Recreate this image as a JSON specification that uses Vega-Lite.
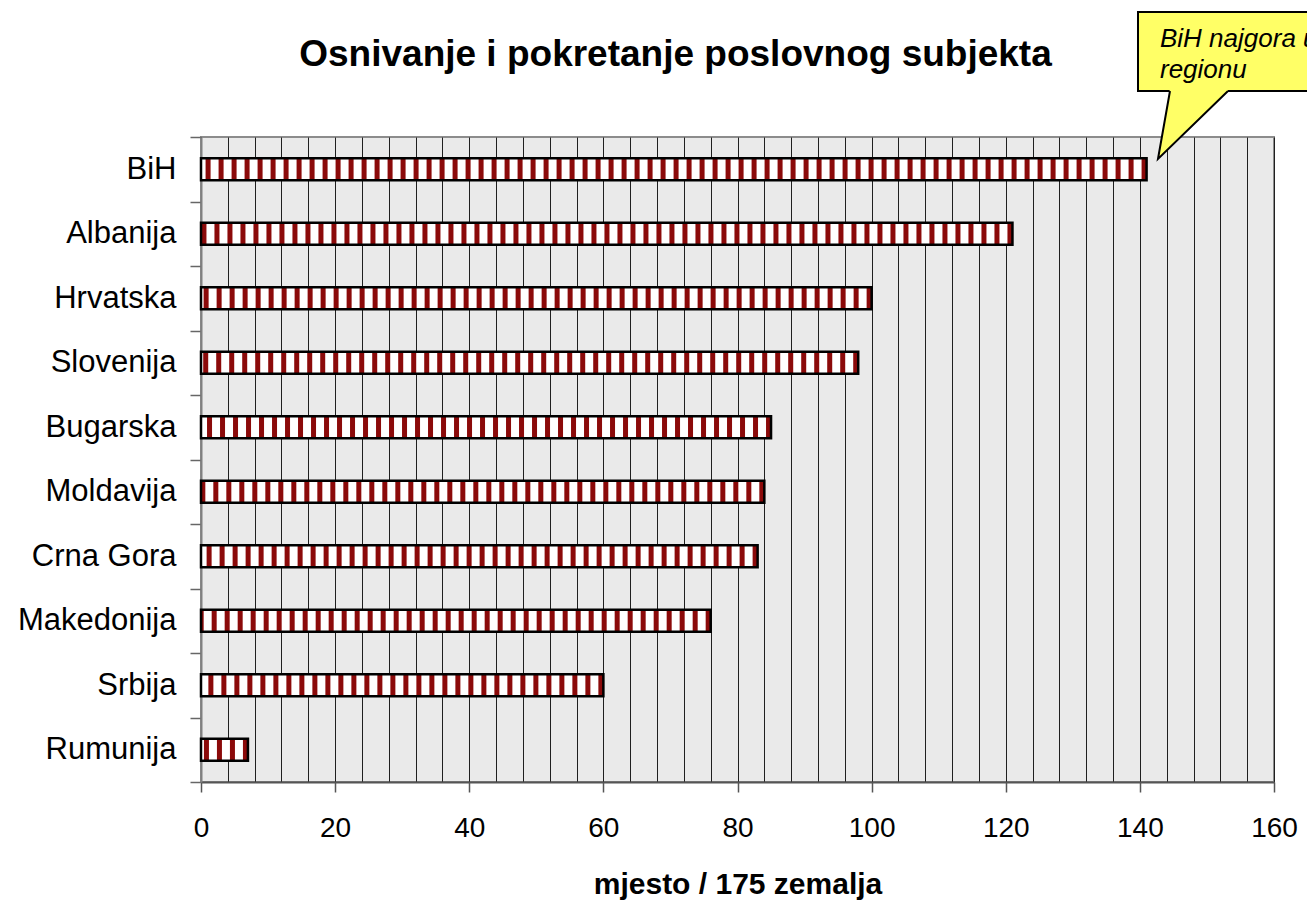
{
  "$schema": "https://vega.github.io/schema/vega-lite/v6.json",
  "width": 1073,
  "height": 645,
  "autosize": {"type": "none"},
  "padding": {"left": 201, "top": 137, "right": 33, "bottom": 121},
  "background": "white",
  "datasets": {
    "rank": [
      {"country": "BiH", "value": 141},
      {"country": "Albanija", "value": 121},
      {"country": "Hrvatska", "value": 100},
      {"country": "Slovenija", "value": 98},
      {"country": "Bugarska", "value": 85},
      {"country": "Moldavija", "value": 84},
      {"country": "Crna Gora", "value": 83},
      {"country": "Makedonija", "value": 76},
      {"country": "Srbija", "value": 60},
      {"country": "Rumunija", "value": 7}
    ],
    "box": [{"value": 139.72, "value2": 170, "lo": 107.13, "hi": 119.38}],
    "tailfill": [
      {"value": 142.7, "lo": 96.59, "hi": 96.59},
      {"value": 144.49, "lo": 98.4, "hi": 107.6},
      {"value": 153.14, "lo": 107.13, "hi": 107.6}
    ],
    "tailline": [
      {"o": 1, "value": 144.49, "lo": 107.13},
      {"o": 2, "value": 142.7, "lo": 96.59},
      {"o": 3, "value": 153.14, "lo": 107.13}
    ],
    "note": [
      {"line": 1, "text": "BiH najgora u", "value": 143.0, "lo": 114.0},
      {"line": 2, "text": "regionu", "value": 143.0, "lo": 109.15}
    ]
  },
  "title": {
    "text": "Osnivanje i pokretanje poslovnog subjekta",
    "font": "Liberation Sans",
    "fontSize": 37,
    "fontWeight": "bold",
    "color": "black",
    "anchor": "middle",
    "dx": -62,
    "baseline": "alphabetic",
    "offset": -92
  },
  "encoding": {
    "x": {
      "field": "value",
      "type": "quantitative",
      "scale": {"domain": [0, 160], "nice": false, "zero": true},
      "axis": {
        "values": [0, 4, 8, 12, 16, 20, 24, 28, 32, 36, 40, 44, 48, 52, 56, 60, 64, 68, 72, 76, 80, 84, 88, 92, 96, 100, 104, 108, 112, 116, 120, 124, 128, 132, 136, 140, 144, 148, 152, 156, 160],
        "labelExpr": "datum.value % 20 === 0 ? datum.label : ''",
        "tickOpacity": {"condition": {"test": "datum.value % 20 === 0", "value": 1}, "value": 0},
        "tickSize": 10,
        "tickColor": "#555555",
        "tickWidth": 1.5,
        "grid": true,
        "gridColor": "#1f1f1f",
        "gridWidth": 1,
        "domain": true,
        "domainColor": "#555555",
        "domainWidth": 2,
        "labelFontSize": 28,
        "labelPadding": 22,
        "labelColor": "black",
        "labelFont": "Liberation Sans",
        "labelFlush": false,
        "labelOverlap": false,
        "title": "mjesto / 175 zemalja",
        "titleFont": "Liberation Sans",
        "titleFontSize": 30,
        "titleFontWeight": "bold",
        "titleColor": "black",
        "titlePadding": 27
      }
    }
  },
  "layer": [
    {
      "data": {"name": "rank"},
      "encoding": {
        "y": {
          "field": "country",
          "type": "nominal",
          "sort": null,
          "scale": {"paddingInner": 0, "paddingOuter": 0},
          "axis": {
            "title": null,
            "grid": false,
            "tickBand": "extent",
            "ticks": true,
            "tickSize": 11,
            "tickColor": "#666666",
            "tickWidth": 1.5,
            "domain": true,
            "domainColor": "#808080",
            "domainWidth": 2,
            "labelFontSize": 31,
            "labelPadding": 14,
            "labelColor": "black",
            "labelFont": "Liberation Sans"
          }
        }
      },
      "layer": [
        {"mark": {"type": "bar", "fill": "white", "size": 22}},
        {
          "mark": {"type": "rule", "color": "#8B0A0A", "strokeWidth": 21, "strokeDash": [5, 8], "strokeCap": "butt"},
          "encoding": {"x2": {"datum": 0}}
        },
        {"mark": {"type": "bar", "fillOpacity": 0, "stroke": "black", "strokeWidth": 2.5, "size": 22}}
      ]
    },
    {
      "layer": [
        {
          "data": {"name": "box"},
          "mark": {"type": "rect", "fill": "#FFFF66", "stroke": "black", "strokeWidth": 2},
          "encoding": {
            "x2": {"field": "value2"},
            "y": {"field": "lo", "type": "quantitative", "scale": {"domain": [0, 100], "nice": false, "zero": false}, "axis": null},
            "y2": {"field": "hi"}
          }
        },
        {
          "data": {"name": "tailfill"},
          "mark": {"type": "area", "fill": "#FFFF66", "strokeWidth": 0, "orient": "vertical"},
          "encoding": {
            "y": {"field": "lo", "type": "quantitative", "scale": {"domain": [0, 100], "nice": false, "zero": false}, "axis": null},
            "y2": {"field": "hi"}
          }
        },
        {
          "data": {"name": "tailline"},
          "mark": {"type": "line", "color": "black", "strokeWidth": 2},
          "encoding": {
            "y": {"field": "lo", "type": "quantitative", "scale": {"domain": [0, 100], "nice": false, "zero": false}, "axis": null},
            "order": {"field": "o", "type": "quantitative"}
          }
        },
        {
          "data": {"name": "note"},
          "mark": {"type": "text", "align": "left", "baseline": "alphabetic", "font": "Liberation Sans", "fontSize": 26, "fontStyle": "italic", "color": "black"},
          "encoding": {
            "y": {"field": "lo", "type": "quantitative", "scale": {"domain": [0, 100], "nice": false, "zero": false}, "axis": null},
            "text": {"field": "text"}
          }
        }
      ]
    }
  ],
  "resolve": {"scale": {"y": "independent"}},
  "config": {
    "font": "Liberation Sans",
    "view": {"fill": "#EAEAEA", "stroke": "#8C8C8C", "strokeWidth": 2}
  }
}
